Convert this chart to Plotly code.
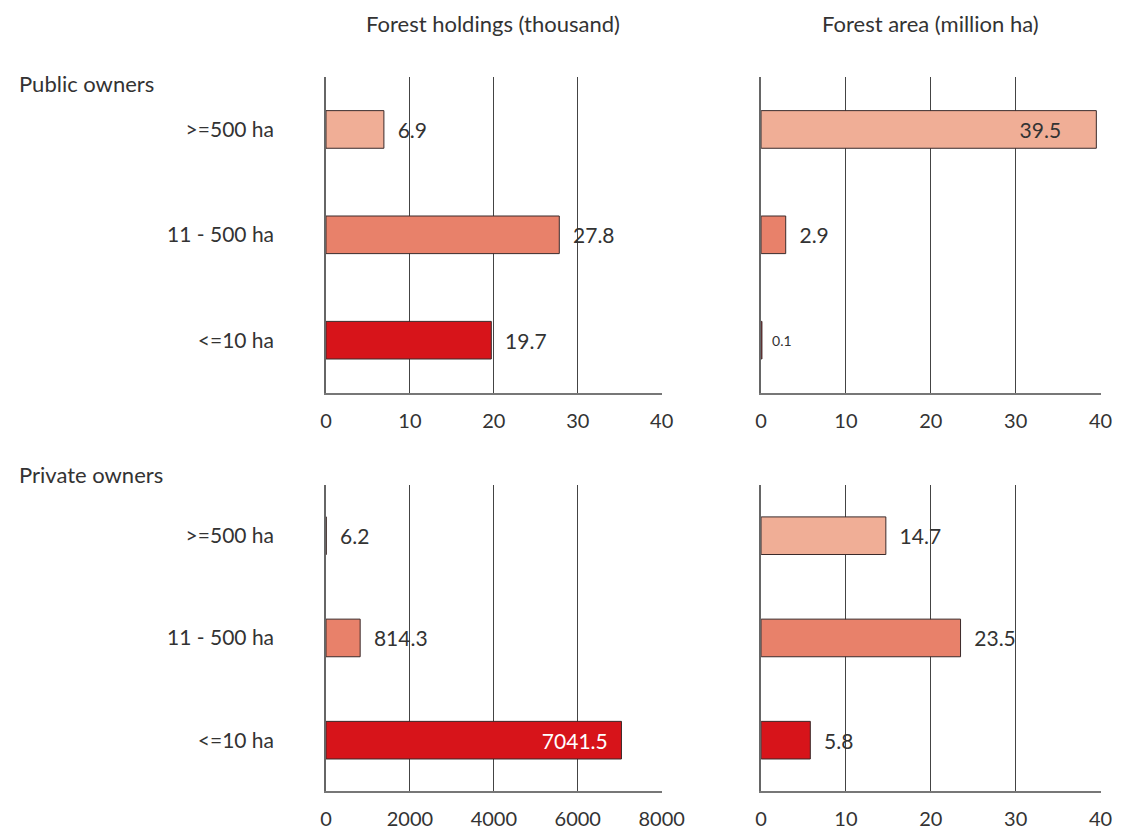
import plotly.graph_objects as go

categories = [">=500 ha", "11 - 500 ha", "<=10 ha"]
public_holdings = [6.9, 27.8, 19.7]
public_area = [39.5, 2.9, 0.1]
private_holdings = [6.2, 814.3, 7041.5]
private_area = [14.7, 23.5, 5.8]
col_titles = ["Forest holdings (thousand)", "Forest area (million ha)"]
row_titles = ["Public owners", "Private owners"]
bar_colors = ["#F0AE96", "#E8816A", "#D7141A"]

W, H = 1146, 830
FONT = "Lato"
TXT = "#333333"

fig = go.Figure()


def px_x(a, b):
    return [a / W, b / W]


def px_y(top, bottom):
    return [1 - bottom / H, 1 - top / H]


panels = [
    # values, xaxis, yaxis, xdomain, ydomain, range, tickvals, inside index, inside pad, bar width
    (public_holdings, "x", "y", px_x(328.3, 672.7), px_y(77.5, 396.7), [0, 40], [0, 10, 20, 30, 40], None, 0, 0.357),
    (public_area, "x2", "y2", px_x(774.7, 1123), px_y(77.5, 396.7), [0, 40], [0, 10, 20, 30, 40], 0, 6, 0.357),
    (private_holdings, "x3", "y3", px_x(328.3, 672.7), px_y(489.3, 799), [0, 8000], [0, 2000, 4000, 6000, 8000], 2, 2, 0.368),
    (private_area, "x4", "y4", px_x(774.7, 1123), px_y(489.3, 799), [0, 40], [0, 10, 20, 30, 40], None, 0, 0.368),
]

NB = "\u00a0"
for i, (vals, xa, ya, xd, yd, rng, tv, inside, ipad, bw) in enumerate(panels):
    texts, pos, tcol, tsize = [], [], [], []
    for j, v in enumerate(vals):
        s = f"{v:.1f}"
        if j == inside:
            texts.append(s + NB * ipad)
            pos.append("inside")
            tcol.append("#ffffff" if i == 2 else TXT)
        else:
            texts.append(NB * 2 + s)
            pos.append("outside")
            tcol.append(TXT)
        tsize.append(14 if v < 0.5 else 21)
    fig.add_trace(go.Bar(
        y=categories, x=vals, orientation="h",
        xaxis=xa, yaxis=ya,
        marker=dict(color=bar_colors, line=dict(color="#3a2a2a", width=1)),
        width=bw,
        text=texts, textposition=pos,
        insidetextanchor="end",
        textfont=dict(color=tcol, size=tsize, family=FONT),
        constraintext="none",
        cliponaxis=False, showlegend=False,
        hoverinfo="skip",
    ))
    xkey = "xaxis" if xa == "x" else "xaxis" + xa[1:]
    ykey = "yaxis" if ya == "y" else "yaxis" + ya[1:]
    fig.update_layout(**{
        xkey: dict(domain=xd, range=rng, tickvals=tv, anchor=ya,
                   showgrid=True, gridcolor="#444444", gridwidth=1,
                   showline=True, linecolor="#777777", linewidth=1.5,
                   zeroline=False, ticks="", ticklabelstandoff=9,
                   tickfont=dict(family=FONT, size=20, color=TXT),
                   fixedrange=True),
        ykey: dict(domain=yd, anchor=xa, categoryorder="array",
                   categoryarray=categories[::-1],
                   showline=True, linecolor="#666666", linewidth=1.5,
                   showgrid=False, ticks="",
                   showticklabels=(i in (0, 2)), ticklabelstandoff=46,
                   tickfont=dict(family=FONT, size=21, color=TXT),
                   fixedrange=True),
    })

ann = []
for t, cx in zip(col_titles, [500, 948]):
    ann.append(dict(text=t, x=cx / W, y=1 - 24 / H, xref="paper", yref="paper",
                    showarrow=False, xanchor="center", yanchor="middle",
                    font=dict(family=FONT, size=22, color=TXT)))
for t, cy in zip(row_titles, [84, 479]):
    ann.append(dict(text=t, x=11 / W, y=1 - cy / H, xref="paper", yref="paper",
                    showarrow=False, xanchor="left", yanchor="middle",
                    font=dict(family=FONT, size=22, color=TXT)))

fig.update_layout(
    width=W, height=H,
    margin=dict(l=0, r=0, t=0, b=0),
    paper_bgcolor="white", plot_bgcolor="white",
    annotations=ann,
    font=dict(family=FONT, color=TXT),
)

fig.write_html(
    "out.html",
    config={"displayModeBar": False},
    post_script="document.body.style.margin='0';document.body.style.overflow='hidden';",
)
